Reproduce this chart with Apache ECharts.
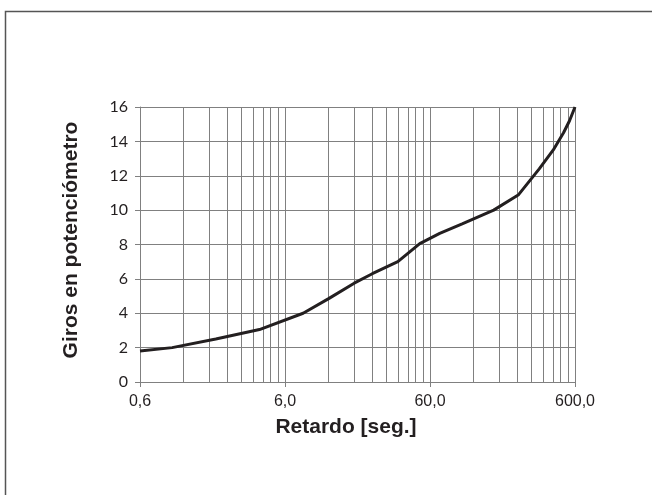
<!DOCTYPE html>
<html><head><meta charset="utf-8">
<script src="https://cdn.jsdelivr.net/npm/echarts@6/dist/echarts.min.js"></script>
<style>html,body{margin:0;padding:0;background:#fff}#c{width:652px;height:495px}</style>
</head><body><div id="c"></div>
<script>
// Data (x: delay in seconds, log scale; y: potentiometer turns)
const retardo = [0.6, 1.0, 2.0, 4.0, 8.0, 12, 18, 24, 36, 51, 70, 100, 165, 245, 340, 425, 500, 550, 600];
const giros   = [1.8, 2.0, 2.5, 3.05, 4.0, 4.85, 5.75, 6.3, 7.0, 8.05, 8.65, 9.2, 10.0, 10.9, 12.4, 13.5, 14.5, 15.2, 16.0];
const xTickLabels = ['0,6', '6,0', '60,0', '600,0'];
const logOrigin = 0.6;
const minorMultipliers = [2, 3, 4, 5, 6, 7, 8, 9];
const decades = [0, 1, 2];

const toLog = t => Math.log10(t / logOrigin);
const seriesData = retardo.map((t, i) => [toLog(t), giros[i]]);
const minorLines = [];
decades.forEach(d => minorMultipliers.forEach(k => minorLines.push({ xAxis: d + Math.log10(k) })));

const gridColor = '#808080';
const chart = echarts.init(document.getElementById('c'), null, { renderer: 'canvas' });
chart.setOption({
  animation: false,
  backgroundColor: '#fff',
  graphic: [{
    type: 'rect', silent: true,
    shape: { x: 5.5, y: 11.5, width: 700, height: 600 },
    style: { fill: 'none', stroke: '#555', lineWidth: 1.5 }
  }],
  grid: { left: 140, right: 77, top: 107, bottom: 113, containLabel: false },
  xAxis: {
    type: 'value', min: 0, max: 3, interval: 1,
    name: 'Retardo [seg.]', nameLocation: 'middle', nameGap: 35,
    nameTextStyle: { fontFamily: 'Liberation Sans', fontWeight: 'bold', fontSize: 21, color: '#231f20', padding: [0, 23, 0, 0] },
    axisLine: { show: true, lineStyle: { color: gridColor, width: 1 } },
    axisTick: { show: true, length: 5, lineStyle: { color: gridColor } },
    axisLabel: {
      margin: 12, fontFamily: 'Liberation Sans', fontSize: 16, color: '#231f20',
      formatter: v => xTickLabels[Math.round(v)] || ''
    },
    splitLine: { show: true, lineStyle: { color: gridColor, width: 1 } }
  },
  yAxis: {
    type: 'value', min: 0, max: 16, interval: 2,
    name: 'Giros en potenciómetro', nameLocation: 'middle', nameGap: 58, nameRotate: 90,
    nameTextStyle: { fontFamily: 'Liberation Sans', fontWeight: 'bold', fontSize: 21, color: '#231f20', padding: [0, 0, 0, 9] },
    axisLine: { show: true, lineStyle: { color: gridColor, width: 1 } },
    axisTick: { show: true, length: 5, lineStyle: { color: gridColor } },
    axisLabel: { margin: 12, fontFamily: 'Lato', fontSize: 16, color: '#231f20' },
    splitLine: { show: true, lineStyle: { color: gridColor, width: 1 } }
  },
  series: [
    {
      type: 'line', data: [], z: 1, silent: true,
      markLine: {
        silent: true, symbol: ['none', 'none'], animation: false,
        label: { show: false },
        lineStyle: { color: gridColor, width: 1, type: 'solid' },
        emphasis: { disabled: true },
        data: minorLines
      }
    },
    {
      type: 'line', data: seriesData, z: 5, showSymbol: false, smooth: false,
      lineStyle: { color: '#231f20', width: 3 },
      emphasis: { disabled: true }
    }
  ]
});
</script></body></html>
